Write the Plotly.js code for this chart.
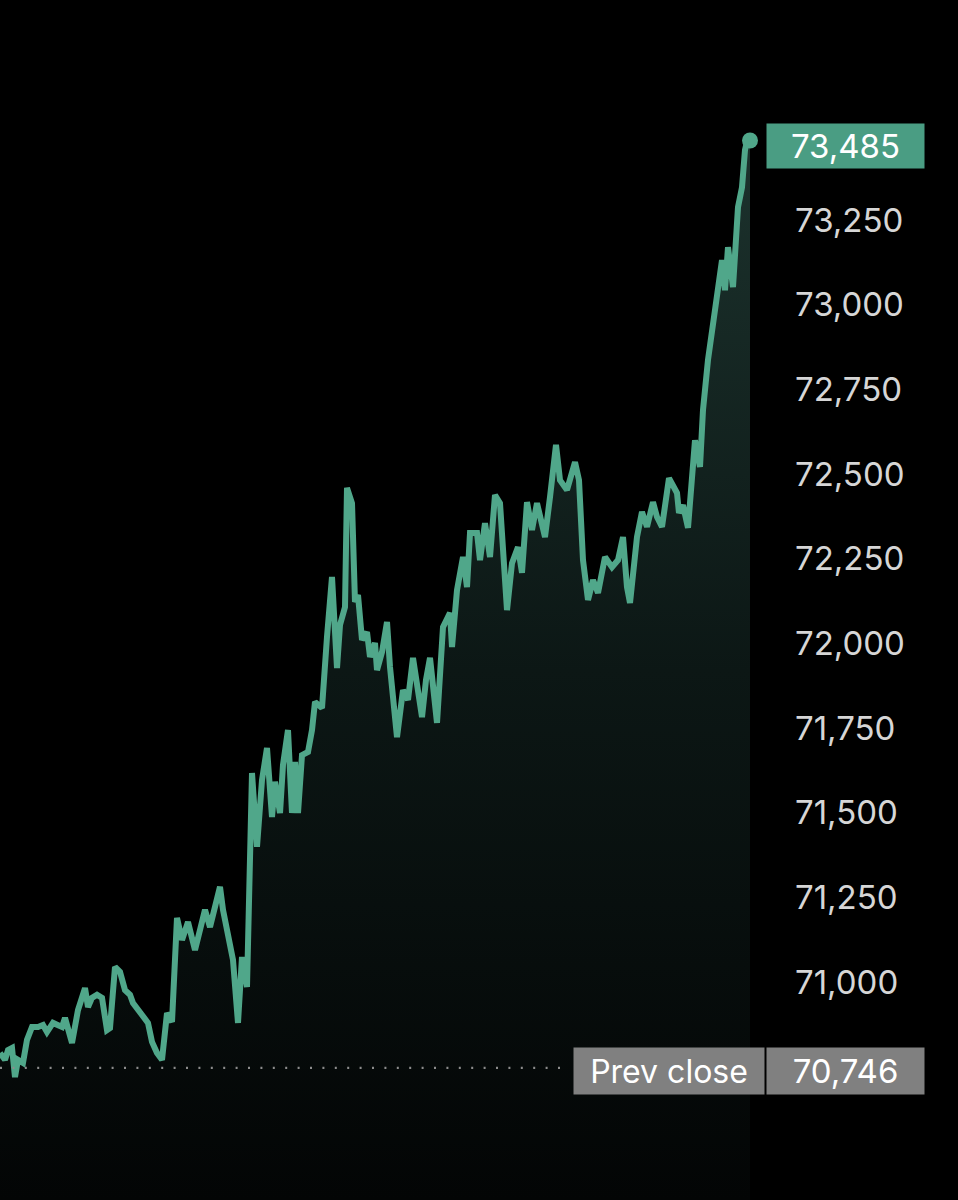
<!DOCTYPE html>
<html><head><meta charset="utf-8">
<script src="https://cdn.plot.ly/plotly-3.0.1.min.js"></script>
<style>html,body{margin:0;padding:0;background:#000;} #chart{width:958px;height:1200px;}</style>
</head><body><div id="chart"></div>
<script>
// time position along the session (arbitrary units)
const timeIdx = [0,5,8,12,15,18,23,27,32,38,43,47,53,58,62,65,72,78,85,88,92,97,102,107,110,115,120,125,130,133,140,145,148,152,157,162,167,172,177,182,188,195,200,205,210,215,220,223,230,233,238,242,247,250,252,257,262,267,272,275,280,283,288,292,295,298,302,308,312,315,322,327,332,337,340,345,347,352,355,358,362,367,370,375,377,382,387,390,395,397,403,408,413,418,422,426,430,437,443,450,452,457,463,467,470,477,480,485,490,495,500,507,512,518,522,527,532,537,545,550,556,560,567,575,579,583,588,593,598,605,612,618,623,627,630,637,642,647,653,657,662,669,677,679,683,688,695,700,703,708,712,717,722,725,728,733,738,742,745,748,750];
const price = [70790,70770,70799,70805,70719,70770,70761,70829,70867,70867,70873,70852,70879,70870,70867,70894,70820,70917,70982,70926,70953,70962,70953,70858,70864,71044,71030,70976,70962,70938,70908,70894,70879,70823,70790,70770,70908,70882,71189,71124,71177,71094,71154,71213,71162,71227,71281,71213,71094,71065,70879,71074,70985,71360,71617,71399,71596,71691,71487,71591,71499,71641,71744,71499,71650,71499,71670,71679,71744,71827,71809,72019,72196,71927,72054,72107,72459,72414,72122,72143,72010,72033,71960,72001,71921,71974,72063,71930,71782,71723,71862,71833,71957,71862,71782,71892,71957,71765,72048,72090,71989,72157,72255,72166,72326,72326,72246,72355,72255,72438,72414,72098,72237,72284,72208,72417,72335,72414,72314,72432,72586,72482,72453,72535,72482,72246,72128,72187,72149,72255,72225,72246,72314,72166,72119,72314,72388,72344,72417,72373,72344,72488,72444,72385,72408,72341,72600,72521,72689,72837,72916,73034,73132,73043,73170,73052,73288,73347,73457,73495,73485];
const prevClose = 70746;
const tickValues = [71000,71250,71500,71750,72000,72250,72500,72750,73000,73250];
const prevCloseText = 'Prev close';

const fmt = v => String(v).replace(/\B(?=(\d{3})+(?!\d))/g, ',');
const lastT = timeIdx[timeIdx.length-1];
const lastP = price[price.length-1];
const yRange = [70356, 73900];
const green = '#50a78a';
const FONT = 'Inter, Roboto, sans-serif';

const traces = [
  {x: timeIdx, y: price, type: 'scatter', mode: 'lines',
   line: {color: green, width: 6}, fill: 'tozeroy',
   fillgradient: {type: 'vertical', start: yRange[0], stop: lastP,
     colorscale: [[0,'rgb(3,5,5)'],[0.5,'rgb(12,23,21)'],[1,'rgb(28,50,45)']]},
   hoverinfo: 'skip'},
  {x: [lastT], y: [lastP], type: 'scatter', mode: 'markers',
   marker: {color: green, size: 16}, cliponaxis: false, hoverinfo: 'skip'}
];

const layout = {
  width: 958, height: 1200,
  paper_bgcolor: '#000', plot_bgcolor: '#000',
  margin: {l: 0, r: 0, t: 0, b: 0, pad: 0},
  showlegend: false,
  xaxis: {domain: [0, 750/958], range: [0, lastT], visible: false, fixedrange: true},
  yaxis: {range: yRange, side: 'right', showgrid: false, zeroline: false, showline: false,
    ticks: '', tickvals: tickValues, ticktext: tickValues.map(fmt),
    tickfont: {family: FONT, size: 33, color: '#d6d6d6'}, ticklabelstandoff: 44, fixedrange: true},
  shapes: [
    {type: 'line', xref: 'x', yref: 'y', x0: 0, x1: 567, y0: prevClose, y1: prevClose,
     line: {color: '#8c8c8c', width: 2.2, dash: '2px,10.4px'}}
  ],
  annotations: [
    {xref: 'paper', yref: 'y', x: 766/958, y: lastP, xanchor: 'left', yanchor: 'middle', yshift: -5,
     text: fmt(lastP), showarrow: false, width: 157, height: 44, bgcolor: '#4a9d83',
     font: {family: FONT, size: 33, color: '#ffffff'}, align: 'center', borderpad: 0},
    {xref: 'paper', yref: 'y', x: 573/958, y: prevClose, xanchor: 'left', yanchor: 'middle', yshift: -3,
     text: prevCloseText, showarrow: false, width: 190, height: 46, bgcolor: '#808080',
     font: {family: FONT, size: 32, color: '#ffffff'}, align: 'center', borderpad: 0},
    {xref: 'paper', yref: 'y', x: 766/958, y: prevClose, xanchor: 'left', yanchor: 'middle', yshift: -3,
     text: fmt(prevClose), showarrow: false, width: 157, height: 46, bgcolor: '#808080',
     font: {family: FONT, size: 33, color: '#ffffff'}, align: 'center', borderpad: 0}
  ]
};

Plotly.newPlot('chart', traces, layout, {staticPlot: true, displayModeBar: false});
</script>
</body></html>
